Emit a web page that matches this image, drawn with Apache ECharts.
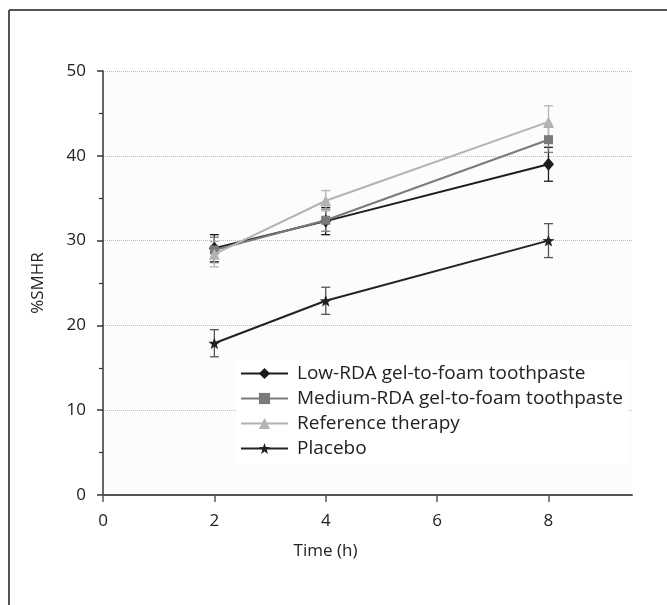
<!DOCTYPE html>
<html>
<head>
<meta charset="utf-8">
<script src="https://cdn.jsdelivr.net/npm/echarts@6/dist/echarts.min.js"></script>
<style>
  html, body { margin: 0; padding: 0; background: #fff; }
  #main { width: 667px; height: 605px; }
</style>
</head>
<body>
<div id="main"></div>
<script>
// time points (h) and axis ticks
const hours = [2, 4, 8]
const xTicks = [0, 2, 4, 6, 8]

const seriesNames = [
  'Low-RDA gel-to-foam toothpaste',
  'Medium-RDA gel-to-foam toothpaste',
  'Reference therapy',
  'Placebo'
]

// %SMHR means and error (+/-)
const lowRDA = [29.1, 32.3, 39.0]
const lowRDAErr = [1.6, 1.6, 2.0]
const mediumRDA = [28.9, 32.4, 41.9]
const mediumRDAErr = [1.5, 1.3, 1.5]
const reference = [28.4, 34.7, 44.0]
const referenceErr = [1.5, 1.2, 1.9]
const placebo = [17.9, 22.9, 30.0]
const placeboErr = [1.6, 1.6, 2.0]

const colors = ['#1c1c1c', '#7a7a7a', '#b3b3b3', '#222222']
const starPath = 'path://M0,-10L2.35,-3.24L9.51,-3.09L3.8,1.24L5.88,8.09L0,4L-5.88,8.09L-3.8,1.24L-9.51,-3.09L-2.35,-3.24Z'
const symbols = ['diamond', 'rect', 'triangle', starPath]
const symbolSizes = [[11, 13], 9, 11, 12]

const means = [lowRDA, mediumRDA, reference, placebo]
const errs = [lowRDAErr, mediumRDAErr, referenceErr, placeboErr]

const font = '"Open Sans", "Noto Sans", sans-serif'

function errorBars(color) {
  return function (params, api) {
    const x = api.value(0)
    const top = api.coord([x, api.value(2)])
    const bot = api.coord([x, api.value(1)])
    const w = 4.5
    const style = { stroke: color, lineWidth: 1.3 }
    return {
      type: 'group',
      children: [
        { type: 'line', shape: { x1: top[0], y1: top[1], x2: bot[0], y2: bot[1] }, style: style },
        { type: 'line', shape: { x1: top[0] - w, y1: top[1], x2: top[0] + w, y2: top[1] }, style: style },
        { type: 'line', shape: { x1: bot[0] - w, y1: bot[1], x2: bot[0] + w, y2: bot[1] }, style: style }
      ]
    }
  }
}

const series = []
means.forEach((m, i) => {
  series.push({
    name: seriesNames[i] + ' err',
    type: 'custom',
    renderItem: errorBars(i === 3 ? '#555' : colors[i]),
    data: hours.map((h, k) => [h, m[k] - errs[i][k], m[k] + errs[i][k]]),
    encode: { x: 0, y: [1, 2] },
    z: 1,
    silent: true
  })
})
means.forEach((m, i) => {
  series.push({
    name: seriesNames[i],
    type: 'line',
    data: hours.map((h, k) => [h, m[k]]),
    symbol: symbols[i],
    symbolSize: symbolSizes[i],
    showAllSymbol: true,
    itemStyle: { color: colors[i] },
    lineStyle: { color: colors[i], width: 2 },
    z: 3 + i
  })
})

const chart = echarts.init(document.getElementById('main'))
chart.setOption({
  animation: false,
  graphic: [
    { type: 'line', shape: { x1: 9, y1: 10, x2: 667, y2: 10 }, style: { stroke: '#555', lineWidth: 2 } },
    { type: 'line', shape: { x1: 9, y1: 10, x2: 9, y2: 605 }, style: { stroke: '#555', lineWidth: 2 } }
  ],
  grid: {
    left: 103, right: 35, top: 71, bottom: 110,
    show: true, backgroundColor: '#fcfcfc', borderWidth: 0
  },
  legend: {
    data: seriesNames,
    orient: 'vertical',
    left: 237,
    top: 360,
    backgroundColor: '#ffffff',
    padding: [4, 6, 6, 3],
    itemWidth: 47,
    itemHeight: 14,
    itemGap: 6,
    textStyle: { fontFamily: font, fontSize: 19, lineHeight: 19, color: '#222', padding: [0, 0, 0, 4] }
  },
  xAxis: {
    type: 'value',
    min: 0,
    max: 9.5,
    interval: 2,
    name: 'Time (h)',
    nameLocation: 'middle',
    nameGap: 48,
    nameTextStyle: { fontFamily: font, fontSize: 17, color: '#222', padding: [0, 84, 0, 0] },
    axisLine: { lineStyle: { color: '#555', width: 2 } },
    axisTick: { show: true, length: 7, customValues: xTicks, lineStyle: { color: '#555', width: 1.5 } },
    axisLabel: { customValues: xTicks, fontFamily: font, fontSize: 17, color: '#222', margin: 18 },
    splitLine: { show: false }
  },
  yAxis: {
    type: 'value',
    min: 0,
    max: 50,
    interval: 10,
    name: '%SMHR',
    nameLocation: 'middle',
    nameGap: 56,
    nameTextStyle: { fontFamily: font, fontSize: 17, color: '#222' },
    axisLine: { show: true, lineStyle: { color: '#333', width: 1.5 } },
    axisTick: { show: true, length: 6, lineStyle: { color: '#333', width: 1.5 } },
    minorTick: { show: true, splitNumber: 2, length: 4, lineStyle: { color: '#333', width: 1.2 } },
    axisLabel: { fontFamily: font, fontSize: 17, color: '#222', margin: 17 },
    splitLine: { show: true, lineStyle: { color: '#bdbdbd', type: 'dotted', width: 1 } }
  },
  series: series
})
</script>
</body>
</html>
